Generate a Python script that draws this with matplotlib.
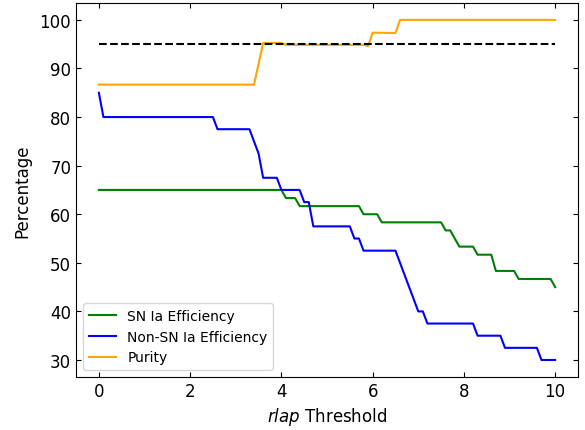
import matplotlib
matplotlib.use("Agg")
import matplotlib.pyplot as plt

# SN Ia efficiency
eff_ia_x = [0, 4.0, 4.1, 4.3, 4.4, 5.7, 5.8, 6.1, 6.2, 7.5, 7.6, 7.7, 7.9, 8.2, 8.3, 8.6, 8.7, 9.1, 9.2, 9.9, 10]
eff_ia_y = [65, 65, 63.33, 63.33, 61.67, 61.67, 60, 60, 58.33, 58.33, 56.67, 56.67, 53.33, 53.33,
            51.67, 51.67, 48.33, 48.33, 46.67, 46.67, 45]

# Non-SN Ia efficiency
eff_non_x = [0, 0.1, 2.5, 2.6, 3.3, 3.5, 3.6, 3.9, 4.0, 4.4, 4.5, 4.6, 4.7, 5.5, 5.6, 5.7, 5.8,
             6.5, 7.0, 7.1, 7.2, 8.2, 8.3, 8.8, 8.9, 9.6, 9.7, 10]
eff_non_y = [85, 80, 80, 77.5, 77.5, 72.5, 67.5, 67.5, 65, 65, 62.5, 62.5, 57.5, 57.5, 55, 55, 52.5,
             52.5, 40, 40, 37.5, 37.5, 35, 35, 32.5, 32.5, 30, 30]

# Purity
pur_x = [0, 3.4, 3.6, 4.0, 4.1, 5.8, 5.9, 6.0, 6.5, 6.6, 10]
pur_y = [86.67, 86.67, 95.24, 95.24, 94.87, 94.87, 94.6, 97.37, 97.3, 100, 100]

# Target purity
target_x = [0, 10]
target_y = [95, 95]

fig = plt.figure(figsize=(5.85, 4.31), dpi=100)
ax = fig.add_axes([0.130, 0.123, 0.858, 0.868])

ax.plot(eff_ia_x, eff_ia_y, color='green', lw=1.5, label='SN Ia Efficiency')
ax.plot(eff_non_x, eff_non_y, color='blue', lw=1.5, label='Non-SN Ia Efficiency')
ax.plot(pur_x, pur_y, color='orange', lw=1.5, label='Purity')
ax.plot(target_x, target_y, color='black', ls='--', lw=1.5)

ax.set_xlabel(r'$rlap$ Threshold', fontsize=12)
ax.set_ylabel('Percentage', fontsize=12, labelpad=6)
ax.tick_params(direction='in', top=True, right=True, labelsize=12)
ax.set_xticks([0, 2, 4, 6, 8, 10])
ax.set_yticks([30, 40, 50, 60, 70, 80, 90, 100])
ax.legend(loc='lower left', fontsize=10)

fig.savefig('out.png', dpi=100)
